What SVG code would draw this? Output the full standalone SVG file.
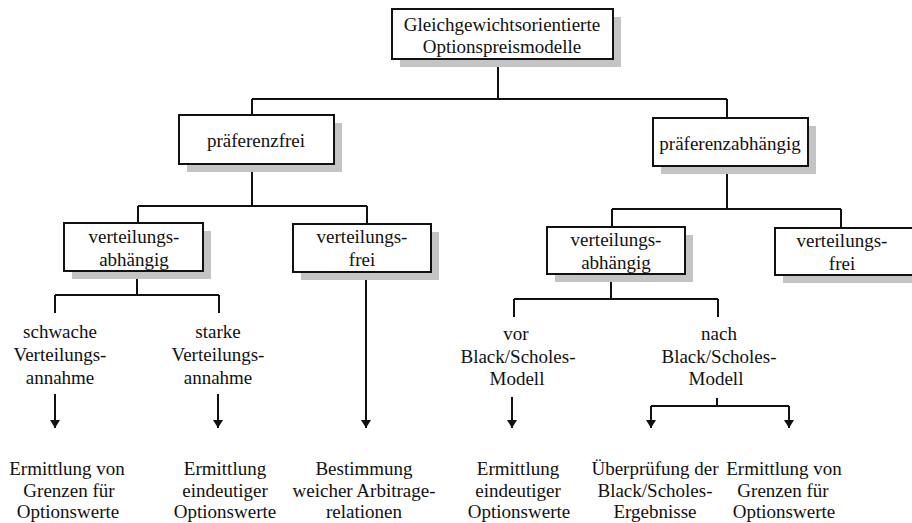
<svg xmlns="http://www.w3.org/2000/svg" width="912" height="523" viewBox="0 0 912 523">
<style>
.box{fill:#fff;stroke:#111;stroke-width:2}
.sh{fill:#c4c4c4}
.t{font-family:"Liberation Serif","Times New Roman",serif;font-size:19px;fill:#111;text-anchor:middle}
.c{fill:none;stroke:#111;stroke-width:2}
</style>
<defs>
<marker id="ah" viewBox="0 0 8 10" refX="8" refY="5" markerWidth="8" markerHeight="10" markerUnits="userSpaceOnUse" orient="auto">
<path d="M0,0 L8,5 L0,10 Z" fill="#111"/>
</marker>
</defs>
<rect width="912" height="523" fill="#fff"/>
<g id="connectors">
<path class="c" d="M498,59 V99 M252,99 H727 M252,99 V115 M727,99 V118"/>
<path class="c" d="M252,164 V206 M138,206 H367 M138,206 V223 M367,206 V224"/>
<path class="c" d="M727,166 V209 M612,209 H841 M612,209 V227 M841,209 V228"/>
<path class="c" d="M137,271 V295 M55,295 H219 M55,295 V313 M219,295 V313"/>
<path class="c" d="M611,274 V299 M514,299 H718 M514,299 V317 M718,299 V317"/>
<path class="c" d="M717,398 V406 M651,406 H789"/>
<line class="c" x1="55" y1="394" x2="55" y2="428" marker-end="url(#ah)"/>
<line class="c" x1="218" y1="394" x2="218" y2="428" marker-end="url(#ah)"/>
<line class="c" x1="366" y1="272" x2="366" y2="428" marker-end="url(#ah)"/>
<line class="c" x1="512" y1="397" x2="512" y2="428" marker-end="url(#ah)"/>
<line class="c" x1="651" y1="406" x2="651" y2="428" marker-end="url(#ah)"/>
<line class="c" x1="789" y1="406" x2="789" y2="428" marker-end="url(#ah)"/>
</g>
<g id="n-root">
<rect class="sh" x="400" y="17" width="221" height="50"/>
<rect class="box" x="392" y="9" width="221" height="50"/>
<text class="t" x="502" y="31">Gleichgewichtsorientierte</text>
<text class="t" x="502" y="53">Optionspreismodelle</text>
</g>
<g id="n-praeferenzfrei">
<rect class="sh" x="187" y="123" width="155" height="49"/>
<rect class="box" x="179" y="115" width="155" height="49"/>
<text class="t" x="256" y="147">präferenzfrei</text>
</g>
<g id="n-praeferenzabhaengig">
<rect class="sh" x="661" y="126" width="155" height="48"/>
<rect class="box" x="653" y="118" width="155" height="48"/>
<text class="t" x="730" y="150">präferenzabhängig</text>
</g>
<g id="n-va-left">
<rect class="sh" x="72" y="231" width="139" height="48"/>
<rect class="box" x="64" y="223" width="139" height="48"/>
<text class="t" x="134" y="243">verteilungs-</text>
<text class="t" x="134" y="266">abhängig</text>
</g>
<g id="n-vf-left">
<rect class="sh" x="301" y="232" width="138" height="48"/>
<rect class="box" x="293" y="224" width="138" height="48"/>
<text class="t" x="362" y="243">verteilungs-</text>
<text class="t" x="362" y="266">frei</text>
</g>
<g id="n-va-right">
<rect class="sh" x="555" y="235" width="138" height="47"/>
<rect class="box" x="547" y="227" width="138" height="47"/>
<text class="t" x="616" y="246">verteilungs-</text>
<text class="t" x="616" y="269">abhängig</text>
</g>
<g id="n-vf-right">
<rect class="sh" x="783" y="236" width="140" height="47"/>
<rect class="box" x="775" y="228" width="140" height="47"/>
<text class="t" x="842" y="247">verteilungs-</text>
<text class="t" x="842" y="270">frei</text>
</g>
<g id="l-schwach">
<text class="t" x="60" y="338">schwache</text>
<text class="t" x="60" y="361">Verteilungs-</text>
<text class="t" x="60" y="384">annahme</text>
</g>
<g id="l-stark">
<text class="t" x="218" y="338">starke</text>
<text class="t" x="218" y="361">Verteilungs-</text>
<text class="t" x="218" y="384">annahme</text>
</g>
<g id="l-vor">
<text class="t" x="516" y="340">vor</text>
<text class="t" x="518" y="363">Black/Scholes-</text>
<text class="t" x="517" y="385">Modell</text>
</g>
<g id="l-nach">
<text class="t" x="719" y="340">nach</text>
<text class="t" x="719" y="363">Black/Scholes-</text>
<text class="t" x="716" y="385">Modell</text>
</g>
<g id="r1">
<text class="t" x="67" y="475">Ermittlung von</text>
<text class="t" x="69" y="497">Grenzen für</text>
<text class="t" x="68" y="518">Optionswerte</text>
</g>
<g id="r2">
<text class="t" x="225" y="475">Ermittlung</text>
<text class="t" x="225" y="497">eindeutiger</text>
<text class="t" x="225" y="518">Optionswerte</text>
</g>
<g id="r3">
<text class="t" x="364" y="475">Bestimmung</text>
<text class="t" x="364" y="497">weicher Arbitrage-</text>
<text class="t" x="364" y="518">relationen</text>
</g>
<g id="r4">
<text class="t" x="518" y="475">Ermittlung</text>
<text class="t" x="518" y="497">eindeutiger</text>
<text class="t" x="519" y="518">Optionswerte</text>
</g>
<g id="r5">
<text class="t" x="655" y="475">Überprüfung der</text>
<text class="t" x="655" y="497">Black/Scholes-</text>
<text class="t" x="655" y="518">Ergebnisse</text>
</g>
<g id="r6">
<text class="t" x="784" y="475">Ermittlung von</text>
<text class="t" x="783" y="497">Grenzen für</text>
<text class="t" x="784" y="518">Optionswerte</text>
</g>
</svg>
